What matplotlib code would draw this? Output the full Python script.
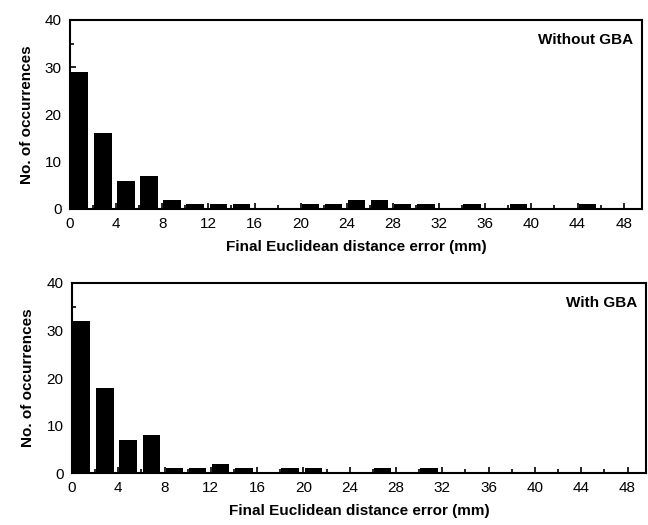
import numpy as np
import matplotlib.pyplot as plt
from matplotlib.ticker import MultipleLocator

plt.rcParams['font.family'] = ['Liberation Sans', 'DejaVu Sans']

# 2 mm bins, left edges
bin_edges = np.arange(0, 50, 2)
counts_without = [29, 16, 6, 7, 2, 1, 1, 1, 0, 0, 1, 1, 2, 2, 1, 1, 0, 1, 0, 1, 0, 0, 1, 0, 0]
counts_with = [32, 18, 7, 8, 1, 1, 2, 1, 0, 1, 1, 0, 0, 1, 0, 1, 0, 0, 0, 0, 0, 0, 0, 0, 0]
labels = ["Without GBA", "With GBA"]

fig = plt.figure(figsize=(6.48, 5.25), dpi=100)
ax1 = fig.add_axes([0.108, 0.602, 0.883, 0.360])
ax2 = fig.add_axes([0.111, 0.099, 0.886, 0.362])

for ax, counts, label in zip([ax1, ax2], [counts_without, counts_with], labels):
    ax.bar(bin_edges + 0.1, counts, width=1.5, align='edge', color='black')
    ax.set_xlim(0, 49.6)
    ax.set_ylim(0, 40)
    ax.xaxis.set_major_locator(MultipleLocator(4))
    ax.xaxis.set_minor_locator(MultipleLocator(2))
    ax.yaxis.set_major_locator(MultipleLocator(10))
    ax.yaxis.set_minor_locator(MultipleLocator(5))
    ax.tick_params(which='both', direction='in', labelsize=11, width=1.2)
    ax.tick_params(which='major', length=4, pad=6)
    ax.tick_params(which='minor', length=3)
    for s in ax.spines.values():
        s.set_linewidth(1.5)
    ax.set_xlabel("Final Euclidean distance error (mm)", fontsize=11, fontweight='bold', labelpad=6)
    ax.set_ylabel("No. of occurrences", fontsize=11, fontweight='bold', labelpad=8)
    ax.text(0.985, 0.93, label, transform=ax.transAxes, ha='right', va='top',
            fontsize=11, fontweight='bold')

fig.savefig("out.png", dpi=100)
